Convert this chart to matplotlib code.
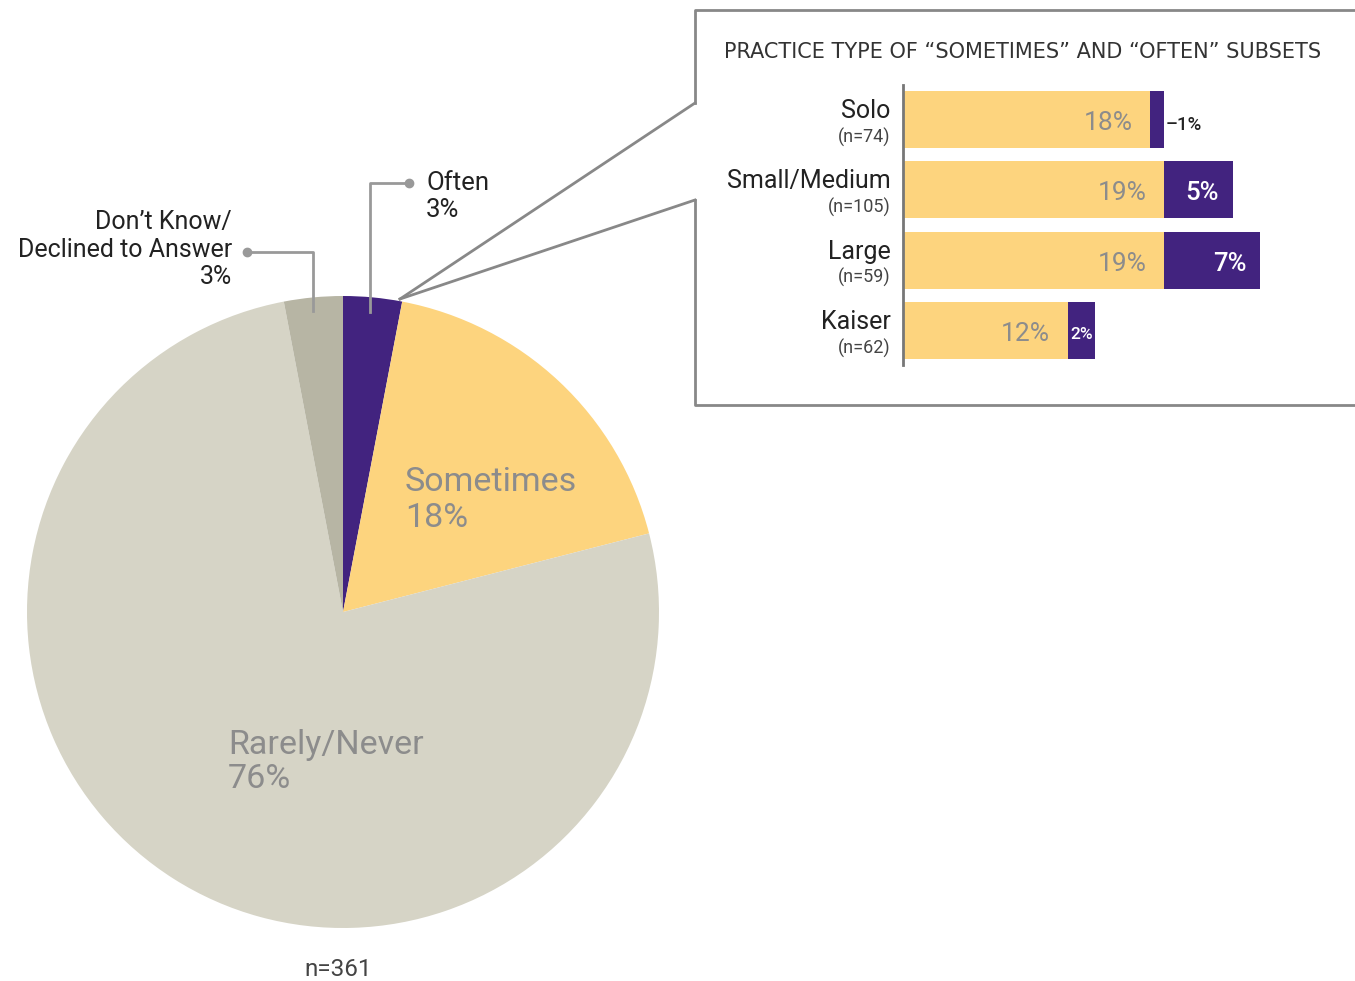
import matplotlib.pyplot as plt

# pie data
pie_labels = ['Often', 'Sometimes', 'Rarely/Never', 'Don\u2019t Know/\nDeclined to Answer']
pie_values = [3, 18, 76, 3]
pie_colors = ['#42237f', '#fdd47e', '#d6d4c6', '#b7b5a4']

# subset bar data
practice_types = ['Solo', 'Small/Medium', 'Large', 'Kaiser']
practice_n = ['(n=74)', '(n=105)', '(n=59)', '(n=62)']
sometimes_pct = [18, 19, 19, 12]
often_pct = [1, 5, 7, 2]
often_text = ['\u20131%', '5%', '7%', '2%']

H = 981
FONT = 'Roboto'
plt.rcParams['font.family'] = [FONT, 'DejaVu Sans']

fig = plt.figure(figsize=(13.55, 9.81), dpi=100)
ax = fig.add_axes([0, 0, 1, 1])


def Y(py):
    return H - py


# Pie
cx, cy, r = 343, Y(612), 316
ax.pie(pie_values, colors=pie_colors, startangle=90, counterclock=False,
       center=(cx, cy), radius=r, frame=True,
       wedgeprops=dict(linewidth=0))
ax.set_xlim(0, 1355)
ax.set_ylim(0, H)
ax.set_aspect('auto')
ax.axis('off')

gray_txt = '#8c8c8c'
ax.text(405, Y(482), pie_labels[1], fontsize=24.5, color=gray_txt, va='center', ha='left')
ax.text(405, Y(518), f'{pie_values[1]}%', fontsize=24.5, color=gray_txt, va='center', ha='left')
ax.text(228, Y(745), pie_labels[2], fontsize=24.5, color=gray_txt, va='center', ha='left')
ax.text(228, Y(779), f'{pie_values[2]}%', fontsize=24.5, color=gray_txt, va='center', ha='left')

# Leader lines
lead = '#999999'
ax.plot([409, 370, 370], [Y(183), Y(183), Y(312)], color=lead, lw=2)
ax.plot([409], [Y(183)], 'o', color=lead, ms=6)
ax.text(426, Y(183), pie_labels[0], fontsize=18.5, color='#222222', va='center')
ax.text(426, Y(210), f'{pie_values[0]}%', fontsize=18.5, color='#222222', va='center')

ax.plot([247, 313, 313], [Y(252), Y(252), Y(311)], color=lead, lw=2)
ax.plot([247], [Y(252)], 'o', color=lead, ms=6)
ax.text(232, Y(236), pie_labels[3], fontsize=18, color='#222222', va='center',
        ha='right', linespacing=1.2)
ax.text(232, Y(277), f'{pie_values[3]}%', fontsize=18, color='#222222', va='center', ha='right')

ax.text(338, Y(970), 'n=361', fontsize=17.5, color='#444444', ha='center', va='center')

# Callout box
box = '#888888'
ax.plot([400, 695], [Y(299), Y(103)], color=box, lw=2)
ax.plot([400, 695], [Y(299), Y(200)], color=box, lw=2)
ax.plot([695, 695, 1360], [Y(103), Y(10), Y(10)], color=box, lw=2)
ax.plot([695, 695, 1360], [Y(200), Y(405), Y(405)], color=box, lw=2)

ax.text(724, Y(52), 'PRACTICE TYPE OF \u201cSOMETIMES\u201d AND \u201cOFTEN\u201d SUBSETS',
        fontsize=15, color='#333333', va='center', ha='left', family='DejaVu Sans')

# Bar inset
bx = fig.add_axes([903 / 1355, 1 - 365 / H, 371 / 1355, 280 / H])
pos = list(range(len(practice_types)))
bx.barh(pos, sometimes_pct, height=0.81, color='#fdd47e')
bx.barh(pos, often_pct, left=sometimes_pct, height=0.81, color='#42237f')
bx.set_xlim(0, 27)
bx.set_ylim(3.49, -0.49)
bx.set_xticks([])
bx.set_yticks([])
for s in ['top', 'right', 'bottom']:
    bx.spines[s].set_visible(False)
bx.spines['left'].set_color('#777777')
bx.spines['left'].set_linewidth(2)
bx.patch.set_alpha(0)

for i, (s, o) in enumerate(zip(sometimes_pct, often_pct)):
    bx.text(s - 1.3, i + 0.05, f'{s}%', fontsize=19, color=gray_txt, ha='right', va='center')
    if i == 0:
        bx.text(s + o + 0.1, i + 0.08, often_text[i], fontsize=13.5, color='#222222',
                ha='left', va='center', fontweight='medium')
    elif o <= 2:
        bx.text(s + o / 2, i + 0.05, often_text[i], fontsize=12.5, color='white',
                ha='center', va='center', fontweight='medium')
    else:
        bx.text(s + o - 1.0, i + 0.05, often_text[i], fontsize=18.5, color='white',
                ha='right', va='center', fontweight='medium')
    bx.text(-0.9, i - 0.12, practice_types[i], fontsize=18, color='#222222',
            ha='right', va='center')
    bx.text(-0.9, i + 0.25, practice_n[i], fontsize=13, color='#444444',
            ha='right', va='center')

fig.savefig('out.png', dpi=100)
